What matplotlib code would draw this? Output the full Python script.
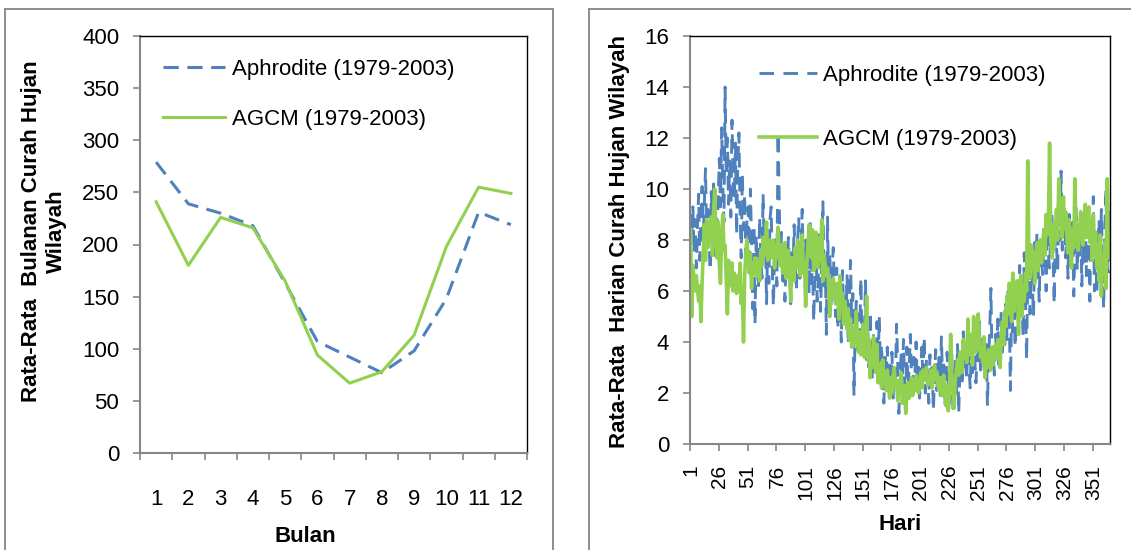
import numpy as np
import matplotlib.pyplot as plt
from matplotlib.patches import Rectangle
from matplotlib.ticker import FixedLocator, NullFormatter

plt.rcParams['font.family'] = ['Liberation Sans', 'DejaVu Sans']

# ---------------------------------------------------------------- data
months = [1, 2, 3, 4, 5, 6, 7, 8, 9, 10, 11, 12]
aphro_monthly = [279, 239, 230, 218, 163, 107, 92, 77, 98, 148, 231, 219]
agcm_monthly = [241, 180, 226, 216, 165, 94, 67, 78, 113, 198, 255, 249]

aphro_daily = [
    9.0, 8.2, 9.3, 7.5, 8.8, 6.9, 8.5, 9.8, 7.2, 8.9, 10.1, 8.0, 9.5, 10.8, 7.8, 9.2, 8.4, 6.8, 9.9, 8.6, 10.2, 7.4, 9.0, 8.1, 9.7,
    11.2, 9.3, 12.4, 10.1, 8.7, 14.0, 10.5, 12.0, 9.4, 11.1, 8.9, 12.7, 10.3, 9.6, 11.8, 8.2, 10.9, 12.2, 9.1, 7.3, 10.6, 8.4, 9.8, 7.0, 8.8,
    9.3, 6.8, 10.0, 7.9, 5.3, 8.6, 4.7, 8.2, 7.0, 6.1, 8.9, 7.4, 6.5, 9.8, 7.7, 8.4, 5.5, 7.9, 6.3, 8.8, 9.3, 6.9, 5.4, 7.6, 8.0,
    6.2, 12.2, 9.7, 7.1, 8.3, 6.4, 7.8, 5.6, 7.3, 6.6, 8.1, 7.0, 5.5, 7.5, 6.8, 8.6, 7.2, 6.0, 7.9, 8.9, 6.5, 7.6, 9.2, 6.9, 7.4,
    8.0, 6.6, 7.7, 5.9, 8.7, 6.3, 7.2, 4.8, 6.7, 7.9, 5.6, 6.5, 8.2, 5.2, 7.0, 9.5, 6.2, 7.4, 4.3, 8.9, 6.0, 7.5, 5.4, 6.8, 7.7,
    6.1, 5.0, 6.9, 4.5, 6.4, 5.7, 4.0, 6.8, 5.3, 6.0, 4.8, 6.6, 3.9, 5.5, 7.2, 4.7, 5.9, 1.9, 4.4, 5.6, 3.6, 5.1, 4.2, 6.5, 3.8,
    4.9, 4.1, 6.4, 3.3, 4.6, 3.0, 5.2, 3.7, 2.5, 4.4, 3.5, 2.9, 4.8, 3.2, 5.0, 2.7, 3.9, 2.2, 1.6, 3.4, 2.6, 3.8, 2.1, 3.1, 2.4,
    3.6, 1.8, 2.9, 2.3, 4.7, 3.2, 1.2, 2.7, 3.5, 2.0, 4.1, 2.5, 1.7, 3.8, 2.2, 3.0, 4.3, 2.6, 1.9, 3.4, 2.8, 4.0, 2.3, 3.1, 1.8,
    2.9, 3.8, 2.4, 4.2, 2.0, 3.3, 2.7, 1.6, 3.5, 2.5, 3.0, 1.3, 2.6, 3.7, 2.1, 2.8, 3.4, 1.9, 4.2, 2.4, 3.1, 1.5, 2.7, 3.6, 2.2,
    1.6, 2.9, 3.5, 1.4, 2.6, 3.3, 2.0, 3.9, 1.2, 2.8, 3.6, 2.3, 4.4, 2.9, 3.2, 2.5, 4.6, 3.0, 2.2, 3.7, 2.8, 4.0, 3.3, 2.4, 3.5,
    3.1, 4.8, 2.9, 3.6, 4.2, 3.0, 2.6, 3.9, 1.5, 3.4, 4.5, 6.1, 3.2, 3.8, 2.7, 4.3, 3.5, 4.9, 3.1, 4.0, 5.2, 3.6, 4.7, 3.9, 5.5,
    4.1, 6.2, 4.8, 2.1, 5.7, 4.4, 6.6, 3.8, 5.2, 6.0, 4.5, 7.0, 5.4, 6.5, 4.2, 7.5, 5.8, 3.3, 6.7, 7.8, 5.1, 7.2, 6.3, 5.0, 7.9,
    6.4, 8.3, 7.0, 5.6, 8.0, 7.3, 6.6, 8.5, 7.7, 6.0, 8.9, 7.4, 6.9, 8.2, 9.1, 7.5, 5.5, 8.6, 7.8, 6.8, 9.4, 8.0, 10.7, 7.6, 8.8,
    9.2, 7.3, 8.5, 6.5, 9.0, 8.1, 7.0, 8.7, 5.8, 7.9, 9.3, 6.8, 8.3, 7.4, 9.1, 6.2, 8.0, 7.1, 9.4, 6.6, 8.4, 7.8, 5.6, 8.9, 7.2,
    9.7, 6.0, 8.1, 5.9, 7.5, 8.8, 6.4, 9.2, 7.0, 5.3, 8.5, 10.0, 6.8, 9.1, 6.7,
]

agcm_daily = [
    8.4, 5.0, 7.0, 6.5, 6.0, 6.6, 6.1, 5.6, 6.2, 4.8, 6.3, 7.5, 8.6, 7.2, 8.8, 7.7, 8.5, 8.0, 8.9, 7.4, 9.1, 10.0, 8.2, 7.3, 8.7,
    7.0, 6.3, 8.2, 9.0, 7.6, 7.8, 6.5, 5.1, 7.2, 6.2, 6.8, 7.1, 6.0, 6.7, 6.3, 5.9, 6.6, 6.0, 7.1, 5.5, 6.2, 4.0, 6.6, 7.5, 8.0,
    7.2, 6.7, 7.5, 6.1, 7.1, 6.8, 7.3, 6.6, 6.9, 7.2, 6.4, 7.6, 7.0, 8.1, 7.4, 7.9, 8.7, 7.2, 7.6, 8.0, 7.3, 7.7, 8.0, 6.9, 7.5,
    7.3, 8.5, 7.6, 7.0, 7.8, 6.7, 7.4, 7.9, 6.5, 7.2, 7.6, 6.8, 5.6, 7.3, 7.1, 6.4, 7.7, 6.9, 8.0, 7.5, 6.6, 7.0, 8.2, 6.7, 7.1,
    5.4, 7.0, 7.8, 8.6, 8.0, 7.3, 8.4, 6.8, 7.7, 8.3, 7.5, 6.9, 8.1, 7.2, 8.8, 6.4, 7.4, 7.0, 6.6, 6.9, 6.2, 5.0, 6.4, 5.8, 6.5,
    6.0, 5.5, 6.3, 5.7, 4.9, 6.6, 5.4, 5.9, 4.7, 5.6, 5.1, 4.5, 5.3, 4.1, 4.9, 3.8, 4.6, 4.3, 3.9, 5.2, 4.0, 3.6, 4.4, 3.5, 3.8,
    4.7, 3.4, 3.9, 5.8, 3.3, 4.1, 2.6, 3.7, 3.0, 4.2, 3.5, 2.8, 3.9, 2.4, 3.1, 2.9, 2.2, 3.3, 2.5, 2.7, 2.1, 2.9, 2.3, 1.8, 2.6,
    2.0, 2.7, 3.0, 2.2, 2.5, 1.7, 2.4, 2.0, 2.8, 1.6, 2.1, 2.3, 1.2, 2.0, 2.4, 1.8, 2.2, 2.6, 1.9, 2.5, 2.1, 2.7, 2.3, 2.0, 2.4,
    2.8, 2.2, 2.9, 2.5, 2.7, 3.0, 2.3, 2.6, 2.4, 2.9, 2.2, 2.6, 3.1, 2.5, 2.8, 2.3, 2.1, 2.6, 1.9, 2.4, 2.7, 2.0, 1.5, 2.3, 1.3,
    2.0, 4.3, 2.6, 2.2, 1.4, 2.5, 2.9, 3.3, 2.7, 3.6, 3.0, 2.8, 4.1, 3.4, 3.9, 3.2, 4.9, 3.5, 3.8, 4.3, 3.1, 5.0, 3.6, 4.4, 3.7,
    5.1, 4.0, 3.4, 3.8, 3.2, 4.2, 2.6, 3.5, 3.0, 3.7, 3.3, 2.9, 3.8, 3.1, 3.6, 3.9, 3.4, 4.1, 3.7, 3.0, 4.2, 4.8, 3.9, 5.2, 4.6,
    5.8, 5.1, 6.3, 5.4, 4.8, 6.7, 5.2, 5.9, 5.5, 6.4, 4.3, 6.1, 6.6, 5.0, 6.2, 5.6, 6.7, 6.0, 11.1, 7.3, 6.5, 7.8, 6.9, 7.5, 6.3,
    7.2, 7.9, 6.8, 7.6, 8.0, 7.1, 7.8, 8.4, 7.4, 9.0, 8.2, 8.8, 11.8, 8.1, 7.3, 8.6, 7.7, 8.3, 9.2, 8.0, 10.4, 8.7, 9.5, 8.1, 9.7,
    8.5, 9.1, 8.2, 7.5, 8.8, 7.9, 6.9, 8.4, 7.7, 10.4, 8.0, 8.6, 7.6, 8.3, 9.1, 8.5, 7.8, 8.9, 9.4, 8.1, 8.7, 9.3, 7.9, 8.6, 7.2,
    9.0, 7.6, 8.3, 6.9, 7.8, 6.4, 8.2, 5.8, 7.4, 6.7, 7.9, 6.1, 10.4, 8.0, 7.3,
]
days = np.arange(1, len(aphro_daily) + 1)

label_aphro = 'Aphrodite (1979-2003)'
label_agcm = 'AGCM (1979-2003)'

blue = '#4F81BD'
green = '#92D050'
axis_grey = '#868686'

W, H = 1131, 550
fs = 16

# ---------------------------------------------------------------- figure
fig = plt.figure(figsize=(W / 100, H / 100), dpi=100)

# chart area frames (each chart has its own grey border)
for x0, x1 in [(5, 553), (589, 1150)]:
    fig.patches.append(Rectangle((x0 / W, -0.1), (x1 - x0) / W, 1 - 9 / H + 0.1,
                                 transform=fig.transFigure, fill=False,
                                 edgecolor='#8c8c8c', lw=1.4))


def style_axes(ax):
    for s in ['top', 'right']:
        ax.spines[s].set_color('black')
        ax.spines[s].set_linewidth(1.0)
    for s in ['left', 'bottom']:
        ax.spines[s].set_color(axis_grey)
        ax.spines[s].set_linewidth(1.5)
    ax.tick_params(which='major', direction='out', length=5, width=1.2,
                   color=axis_grey, labelsize=fs, pad=10)


# ---------------------------------------------------------------- left: monthly
ax1 = fig.add_axes([140 / W, 1 - 453 / H, 387 / W, 417 / H])
style_axes(ax1)
ax1.plot(months, aphro_monthly, color=blue, lw=2.2, dashes=(5, 2.8), label=label_aphro)
ax1.plot(months, agcm_monthly, color=green, lw=2.2, label=label_agcm)
ax1.set_xlim(0.5, 12.5)
ax1.set_ylim(0, 400)
ax1.set_yticks(np.arange(0, 401, 50))
ax1.xaxis.set_major_locator(FixedLocator(np.arange(0.5, 13, 1)))
ax1.xaxis.set_major_formatter(NullFormatter())
ax1.set_xticks(months, minor=True)
ax1.set_xticklabels([str(m) for m in months], minor=True)
ax1.tick_params(axis='x', which='minor', length=0, labelsize=fs, pad=26)

ax1.legend(loc='upper left', bbox_to_anchor=(163 / W, 1 - 59 / H),
           bbox_transform=fig.transFigure, frameon=False, fontsize=fs,
           handlelength=2.8, handletextpad=0.3, labelspacing=1.29,
           borderpad=0, borderaxespad=0)

fig.text(44 / W, 1 - 231 / H, 'Rata-Rata  Bulanan Curah Hujan\nWilayah',
         rotation=90, ha='center', va='center', multialignment='center',
         fontsize=fs, fontweight='bold', linespacing=1.2)
fig.text(305 / W, 1 - 536 / H, 'Bulan', ha='center', va='center',
         fontsize=fs, fontweight='bold')

# ---------------------------------------------------------------- right: daily
ax2 = fig.add_axes([690 / W, 1 - 444 / H, 420 / W, 408 / H])
style_axes(ax2)
ax2.plot(days, aphro_daily, color=blue, lw=2.1, dashes=(5, 3.2), label=label_aphro)
ax2.plot(days, agcm_daily, color=green, lw=2.6, label=label_agcm)
ax2.set_xlim(0.5, len(days) + 0.5)
ax2.set_ylim(0, 16)
ax2.set_yticks(np.arange(0, 17, 2))
ax2.xaxis.set_major_locator(FixedLocator(np.arange(0.5, len(days), 25)))
ax2.xaxis.set_major_formatter(NullFormatter())
day_ticks = days[::25]
ax2.set_xticks(day_ticks, minor=True)
ax2.set_xticklabels([str(d) for d in day_ticks], minor=True, rotation=90)
ax2.tick_params(axis='x', which='minor', length=0, labelsize=15, pad=15)

ax2.legend(loc='upper left', bbox_to_anchor=(759 / W, 1 - 65 / H),
           bbox_transform=fig.transFigure, frameon=False, fontsize=fs,
           handlelength=2.6, handletextpad=0.3, labelspacing=1.94,
           borderpad=0, borderaxespad=0)

fig.text(620 / W, 1 - 241 / H, 'Rata-Rata  Harian Curah Hujan Wilayah',
         rotation=90, ha='center', va='center', fontsize=fs, fontweight='bold')
fig.text(900 / W, 1 - 524 / H, 'Hari', ha='center', va='center',
         fontsize=fs, fontweight='bold')

fig.savefig('out.png', dpi=100)
